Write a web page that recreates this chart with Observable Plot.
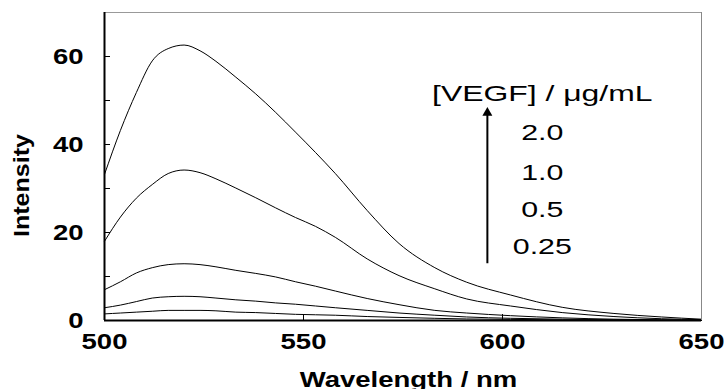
<!DOCTYPE html>
<html>
<head>
<meta charset="utf-8">
<script src="https://cdn.jsdelivr.net/npm/d3@7"></script>
<script src="https://cdn.jsdelivr.net/npm/@observablehq/plot@0.6"></script>
<style>
  body { margin: 0; background: #fff; }
  #chart { width: 724px; height: 389px; }
</style>
</head>
<body>
<div id="chart"></div>
<script>
// ---- data ----
const wavelengths = [500, 504, 508, 512, 516, 520, 524, 528, 533, 538, 543, 548, 553, 558, 566, 574, 583, 591, 602, 615, 628, 640, 650];
const vegf20  = [33.2, 43.2, 51.8, 59.0, 61.8, 62.6, 61.3, 58.9, 55.3, 51.5, 47.3, 42.8, 38.2, 33.4, 25.0, 17.5, 12.0, 8.7, 5.8, 3.0, 1.6, 0.8, 0.3];
const vegf10  = [18.0, 23.5, 27.8, 30.9, 33.4, 34.2, 33.6, 32.2, 30.1, 27.9, 25.6, 23.4, 21.4, 18.9, 14.0, 10.2, 7.2, 4.9, 3.3, 1.8, 0.9, 0.4, 0.2];
const vegf05  = [7.0, 8.8, 10.8, 12.0, 12.7, 12.9, 12.7, 12.2, 11.4, 10.7, 9.9, 8.8, 7.8, 6.7, 5.0, 3.6, 2.3, 1.7, 1.1, 0.6, 0.3, 0.15, 0.1];
const vegf025 = [2.9, 3.5, 4.3, 5.1, 5.4, 5.5, 5.4, 5.1, 4.7, 4.4, 4.0, 3.7, 3.3, 2.9, 2.3, 1.7, 1.2, 0.8, 0.5, 0.3, 0.15, 0.1, 0.05];
const vegf0   = [1.5, 1.7, 1.9, 2.1, 2.3, 2.3, 2.3, 2.2, 1.9, 1.8, 1.6, 1.4, 1.3, 1.2, 0.9, 0.7, 0.5, 0.35, 0.25, 0.15, 0.1, 0.05, 0.0];
const seriesNames = ["2.0", "1.0", "0.5", "0.25", "0"];
const seriesValues = [vegf20, vegf10, vegf05, vegf025, vegf0];

const xTickLabels = [500, 550, 600, 650];
const xInnerTicks = [550, 600];
const yTickLabels = [0, 20, 40, 60];
const yInnerTicks = [10, 20, 30, 40, 50, 60];
const xTitle = "Wavelength / nm";
const yTitle = "Intensity";
const legendTitle = "[VEGF] / \u03bcg/mL";
const legendLabels = ["2.0", "1.0", "0.5", "0.25"];

// annotation anchors (data units)
const legendX = 610;
const legendTitleY = 50.0;
const legendLabelY = [41.1, 32.0, 23.5, 15.2];
const arrowData = [{x: 596.2, y1: 12.9, y2: 47.2}];

// ---- build tables ----
const rows = seriesNames.flatMap((s, k) =>
  wavelengths.map((w, i) => ({wavelength: w, intensity: seriesValues[k][i], series: s})));
const legendRows = legendLabels.map((t, i) => ({label: t, x: legendX, y: legendLabelY[i]}));
const legendTitleRows = [{label: legendTitle, x: legendX, y: legendTitleY}];

const W = 724, H = 389, ML = 104, MR = 23, MT = 12, MB = 69;
const plotW = W - ML - MR, plotH = H - MT - MB;
const tickLen = 6;

const chart = Plot.plot({
  width: W, height: H,
  marginLeft: ML, marginRight: MR, marginTop: MT, marginBottom: MB,
  style: {fontFamily: "'Liberation Sans', Arial, sans-serif", fontSize: "22px", background: "#fff", color: "#000", overflow: "visible"},
  x: {domain: [500, 650]},
  y: {domain: [0, 70]},
  marks: [
    Plot.line(rows, {x: "wavelength", y: "intensity", z: "series", stroke: "#000", strokeWidth: 1, curve: "monotone-x"}),
    Plot.ruleY([70], {stroke: "#999", strokeWidth: 1}),
    Plot.ruleX([650], {stroke: "#888", strokeWidth: 1}),
    Plot.ruleX([500], {stroke: "#000", strokeWidth: 2}),
    Plot.ruleY([0], {stroke: "#000", strokeWidth: 2}),
    Plot.tickY(yInnerTicks, {y: d => d, stroke: "#000", insetRight: plotW - tickLen}),
    Plot.tickX(xInnerTicks, {x: d => d, stroke: "#000", insetTop: plotH - tickLen}),
    Plot.axisY({ticks: yTickLabels, tickSize: 0, tickPadding: 21, label: null, fontSize: 22, fontWeight: "bold"}),
    Plot.axisX({ticks: xTickLabels, tickSize: 0, tickPadding: 13, label: null, fontSize: 22, fontWeight: "bold"}),
    Plot.text([yTitle], {text: d => d, frameAnchor: "left", dx: -76, dy: 19, rotate: -90, lineAnchor: "bottom", textAnchor: "middle", fontSize: 22, fontWeight: "bold"}),
    Plot.text([xTitle], {text: d => d, frameAnchor: "bottom", dx: 5.5, dy: 66, lineAnchor: "bottom", textAnchor: "middle", fontSize: 22, fontWeight: "bold"}),
    Plot.ruleX(arrowData, {x: "x", y1: "y1", y2: "y2", stroke: "#000", strokeWidth: 2}),
    Plot.dot(arrowData, {x: "x", y: "y2", symbol: "triangle", r: 3.7, fill: "#000", stroke: "none"}),
    Plot.text(legendTitleRows, {x: "x", y: "y", text: "label", lineAnchor: "bottom", textAnchor: "middle", fontSize: 22, fontWeight: "normal"}),
    Plot.text(legendRows, {x: "x", y: "y", text: "label", lineAnchor: "bottom", textAnchor: "middle", fontSize: 22, fontWeight: "normal"})
  ]
});

document.getElementById("chart").appendChild(chart);

// the reference's lettering is horizontally wide: stretch glyphs about their anchors
chart.querySelectorAll("text").forEach(t => {
  const g = t.closest("[font-weight]");
  const bold = g && g.getAttribute("font-weight") === "bold";
  let s = bold ? 1.25 : 1.38;
  if (t.textContent === yTitle) s = 1.14;
  if (t.textContent.includes("VEGF")) s = 1.45;
  let x = parseFloat(t.getAttribute("x"));
  if (!isFinite(x) || String(t.getAttribute("x")).includes("em")) x = 0;
  const tr = t.getAttribute("transform") || "";
  t.setAttribute("transform", `${tr} translate(${x},0) scale(${s},1) translate(${-x},0)`);
});
</script>
</body>
</html>
